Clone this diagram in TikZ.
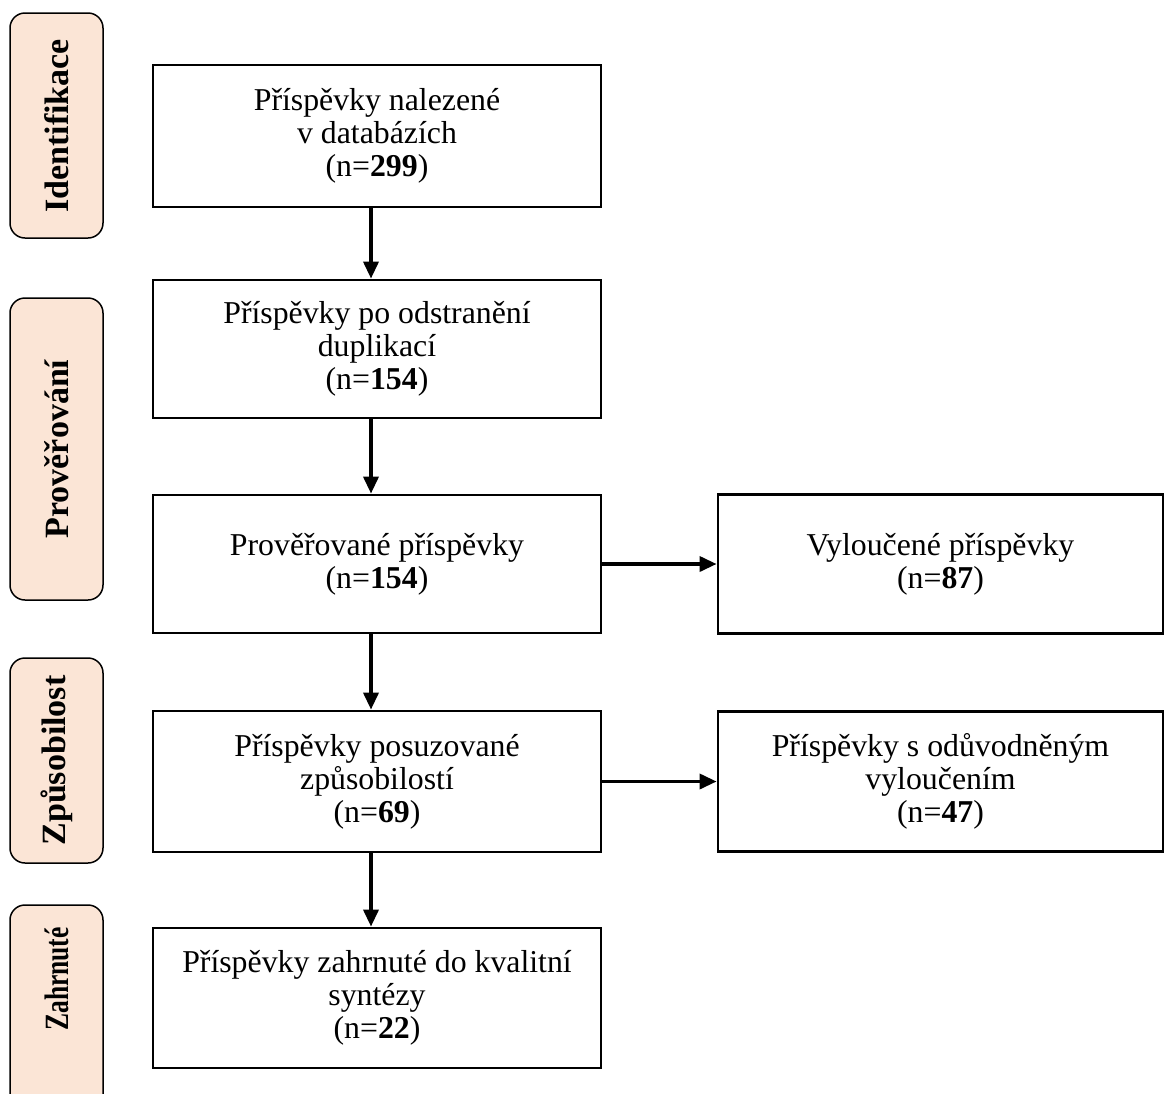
\documentclass[tikz,border=0pt]{standalone}
\usepackage{fontspec}
\setmainfont{Liberation Serif}
\usetikzlibrary{arrows.meta}
\definecolor{peach}{HTML}{FBE5D6}
\tikzset{
  mainbox/.style={draw=black, line width=2.8pt, minimum width=448pt, inner sep=0pt,
    align=center, font=\fontsize{31.8}{33}\selectfont},
  sidebox/.style={draw=black, line width=2.8pt, minimum width=445pt, inner sep=0pt,
    align=center, font=\fontsize{31.8}{33}\selectfont},
  labbox/.style={draw=black, line width=1.5pt, fill=peach, rounded corners=15pt},
  labtext/.style={rotate=90, inner sep=0pt, font=\fontsize{34}{34}\selectfont\bfseries},
  arr/.style={line width=3.5pt, -{Triangle[length=17pt,width=15pt]}}
}
\begin{document}
\begin{tikzpicture}
\useasboundingbox (0,0) rectangle (1165pt,-1093pt);
% phase labels
\draw[labbox] (10pt,-13pt) rectangle (103pt,-238pt);
\node[labtext] (l1) at (56.5pt,-126pt) {Identifikace};
\draw[labbox] (10pt,-298pt) rectangle (103pt,-600pt);
\node[labtext] (l2) at (56.5pt,-449pt) {Prověřování};
\draw[labbox] (10pt,-658pt) rectangle (103pt,-863pt);
\node[labtext] (l3) at (56.5pt,-760.5pt) {Způsobilost};
\draw[labbox] (10pt,-905pt) rectangle (103pt,-1110pt);
\node[labtext] (l4) at (56.5pt,-979pt) {\scalebox{0.75}[1]{Zahrnuté}};
% main boxes
\node[mainbox, minimum height=142pt] (b1) at (377pt,-136pt)
  {Příspěvky nalezené\\ v databázích\\ (n=\textbf{299})};
\node[mainbox, minimum height=138pt] (b2) at (377pt,-349pt)
  {Příspěvky po odstranění\\ duplikací\\ (n=\textbf{154})};
\node[mainbox, minimum height=138pt] (b3) at (377pt,-564pt)
  {Prověřované příspěvky\\ (n=\textbf{154})};
\node[mainbox, minimum height=141pt] (b4) at (377pt,-781.5pt)
  {Příspěvky posuzované\\ způsobilostí\\ (n=\textbf{69})};
\node[mainbox, minimum height=140pt] (b5) at (377pt,-998pt)
  {Příspěvky zahrnuté do kvalitní\\ syntézy\\ (n=\textbf{22})};
% side boxes
\node[sidebox, minimum height=139pt] (r1) at (940.5pt,-564pt)
  {Vyloučené příspěvky\\ (n=\textbf{87})};
\node[sidebox, minimum height=140pt] (r2) at (940.5pt,-781.5pt)
  {Příspěvky s odůvodněným\\ vyloučením\\ (n=\textbf{47})};
% arrows
\draw[arr] ([xshift=-6pt]b1.south) -- ([xshift=-6pt]b2.north);
\draw[arr] ([xshift=-6pt]b2.south) -- ([xshift=-6pt]b3.north);
\draw[arr] ([xshift=-6pt]b3.south) -- ([xshift=-6pt]b4.north);
\draw[arr] ([xshift=-6pt]b4.south) -- ([xshift=-6pt]b5.north);
\draw[arr] (b3.east) -- (r1.west);
\draw[arr] (b4.east) -- (r2.west);
\end{tikzpicture}
\end{document}
